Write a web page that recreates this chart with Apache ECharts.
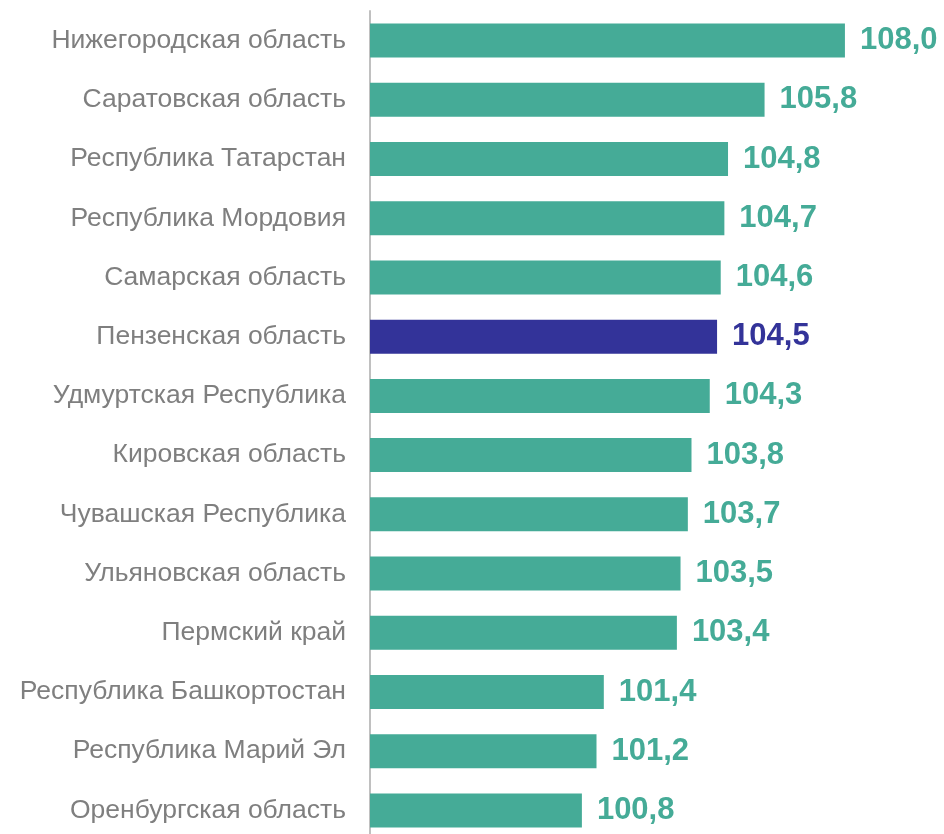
<!DOCTYPE html>
<html lang="ru">
<head>
    <meta charset="UTF-8">
    <title>Регионы</title>
    <script src="https://cdn.jsdelivr.net/npm/echarts@6/dist/echarts.min.js"></script>
    <style>
        html, body { margin: 0; padding: 0; background: #fff; overflow: hidden; }
        #main { width: 944px; height: 850px; }
    </style>
</head>
<body>
<div id="main"></div>
<script type="text/javascript">
    // сверху вниз
    var regions = [
        'Нижегородская область',
        'Саратовская область',
        'Республика Татарстан',
        'Республика Мордовия',
        'Самарская область',
        'Пензенская область',
        'Удмуртская Республика',
        'Кировская область',
        'Чувашская Республика',
        'Ульяновская область',
        'Пермский край',
        'Республика Башкортостан',
        'Республика Марий Эл',
        'Оренбургская область'
    ];
    var values = [108.0, 105.8, 104.8, 104.7, 104.6, 104.5, 104.3, 103.8, 103.7, 103.5, 103.4, 101.4, 101.2, 100.8];
    var highlight = 'Пензенская область';

    var green = '#45ab97';
    var blue = '#333399';

    var barData = values.map(function (v, i) {
        var c = regions[i] === highlight ? blue : green;
        return {
            value: v,
            itemStyle: { color: c },
            label: { color: c }
        };
    });

    var myChart = echarts.init(document.getElementById('main'));
    myChart.setOption({
        animation: false,
        grid: { left: 370, top: 11, width: 548, height: 829 },
        xAxis: {
            type: 'value',
            min: 95,
            max: 110,
            show: false
        },
        yAxis: {
            type: 'category',
            inverse: true,
            data: regions,
            axisLine: { show: true, lineStyle: { color: '#c0c0c0', width: 2 } },
            axisTick: { show: false },
            axisLabel: {
                color: '#7f7f7f',
                fontFamily: 'Liberation Sans',
                fontSize: 26.5,
                margin: 24
            }
        },
        series: [{
            type: 'bar',
            data: barData,
            barWidth: 34,
            label: {
                show: true,
                position: 'right',
                distance: 15,
                fontFamily: 'Liberation Sans',
                fontWeight: 'bold',
                fontSize: 31,
                formatter: function (p) {
                    return p.value.toFixed(1).replace('.', ',');
                }
            }
        }]
    });
</script>
</body>
</html>
